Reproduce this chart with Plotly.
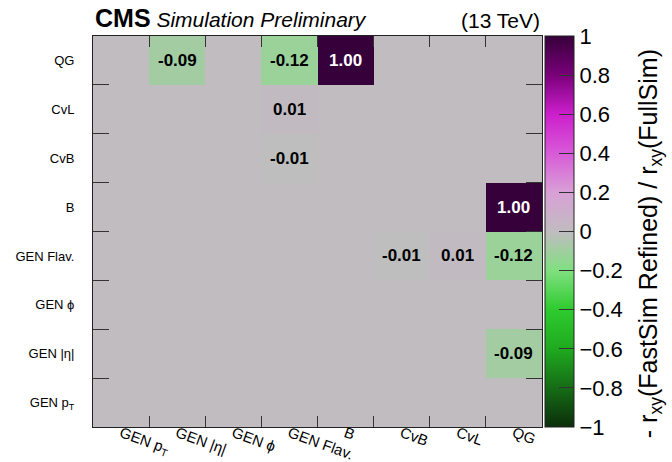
import plotly.graph_objects as go

# ---- data ----
x_labels = ["GEN p<sub>T</sub>", "GEN |η|", "GEN ϕ", "GEN Flav.", "B", "CvB", "CvL", "QG"]
y_labels = ["GEN p<sub>T</sub>", "GEN |η|", "GEN ϕ", "GEN Flav.", "B", "CvB", "CvL", "QG"]  # bottom -> top

# rows follow y_labels (bottom -> top); None = empty cell
values = [
    [None, None, None, None, None, None, None, None],    # GEN pT
    [None, None, None, None, None, None, None, -0.09],   # GEN |eta|
    [None, None, None, None, None, None, None, None],    # GEN phi
    [None, None, None, None, None, -0.01, 0.01, -0.12],  # GEN Flav.
    [None, None, None, None, None, None, None, 1.00],    # B
    [None, None, None, -0.01, None, None, None, None],   # CvB
    [None, None, None, 0.01, None, None, None, None],    # CvL
    [None, -0.09, None, -0.12, 1.00, None, None, None],  # QG
]

cbar_ticks = [-1, -0.8, -0.6, -0.4, -0.2, 0, 0.2, 0.4, 0.6, 0.8, 1]

colorscale = [
    [0.0, "#0b2e0b"],
    [0.1, "#166c16"],
    [0.2, "#1faa1f"],
    [0.3, "#2ecb2e"],
    [0.4, "#80e080"],
    [0.5, "#c0bcc0"],
    [0.6, "#d9a0d6"],
    [0.7, "#d85ad8"],
    [0.8, "#cc1fcc"],
    [0.9, "#7a007a"],
    [1.0, "#36003a"],
]

FONT = "Liberation Sans, Arial, Helvetica, sans-serif"

fig = go.Figure(
    go.Heatmap(
        x=x_labels,
        y=y_labels,
        z=values,
        zmin=-1,
        zmax=1,
        colorscale=colorscale,
        xgap=0,
        ygap=0,
        hoverongaps=False,
        colorbar=dict(
            x=1.0067,
            xanchor="left",
            xpad=0,
            y=0.5,
            yanchor="middle",
            ypad=0,
            len=391,
            lenmode="pixels",
            thickness=29,
            thicknessmode="pixels",
            outlinecolor="#222222",
            outlinewidth=1,
            ticks="inside",
            ticklen=15,
            tickcolor="#333333",
            tickvals=cbar_ticks,
            tickfont=dict(family=FONT, size=22, color="#000000"),
        ),
    )
)

# cell value labels
for yi, row in enumerate(values):
    for xi, v in enumerate(row):
        if v is None:
            continue
        fig.add_annotation(
            x=x_labels[xi], y=y_labels[yi], xref="x", yref="y",
            text=f"<b>{v:.2f}</b>", showarrow=False,
            font=dict(family=FONT, size=17, color="#ffffff" if v > 0.5 else "#000000"),
        )

axis_common = dict(
    type="category",
    tickson="boundaries",
    ticks="inside",
    tickcolor="#333333",
    tickwidth=1,
    showline=True,
    linecolor="#222222",
    linewidth=1,
    mirror="ticks",
    showgrid=False,
    zeroline=False,
    automargin=False,
)

fig.update_xaxes(**axis_common, categoryorder="array", categoryarray=x_labels,
                 ticklen=11, tickangle=20, ticklabelstandoff=-9,
                 tickfont=dict(family=FONT, size=15, color="#000000"))
fig.update_yaxes(**axis_common, categoryorder="array", categoryarray=y_labels,
                 ticklen=16, ticklabelstandoff=15,
                 tickfont=dict(family=FONT, size=13, color="#000000"))

fig.add_annotation(
    xref="paper", yref="paper", x=0, y=1, xanchor="left", yanchor="bottom",
    yshift=2, showarrow=False,
    text="<b><span style='font-size:25px'>CMS</span></b> <i><span style='font-size:21px'>Simulation Preliminary</span></i>",
    font=dict(family=FONT, size=21, color="#000000"),
)
fig.add_annotation(
    xref="paper", yref="paper", x=1, y=1, xanchor="right", yanchor="bottom",
    yshift=2, showarrow=False,
    text="(13 TeV)",
    font=dict(family=FONT, size=21, color="#000000"),
)
fig.add_annotation(
    xref="paper", yref="paper", x=1.2405, y=0.47, xanchor="center", yanchor="middle",
    showarrow=False, textangle=-90,
    text="- r<sub>xy</sub>(FastSim Refined) / r<sub>xy</sub>(FullSim)",
    font=dict(family=FONT, size=25, color="#000000"),
)

fig.update_layout(
    width=672,
    height=462,
    margin=dict(l=93, r=130, t=36, b=35),
    plot_bgcolor="#c0bcc0",
    paper_bgcolor="#ffffff",
    template="none",
    font=dict(family=FONT),
)

fig.write_html("out.html")
